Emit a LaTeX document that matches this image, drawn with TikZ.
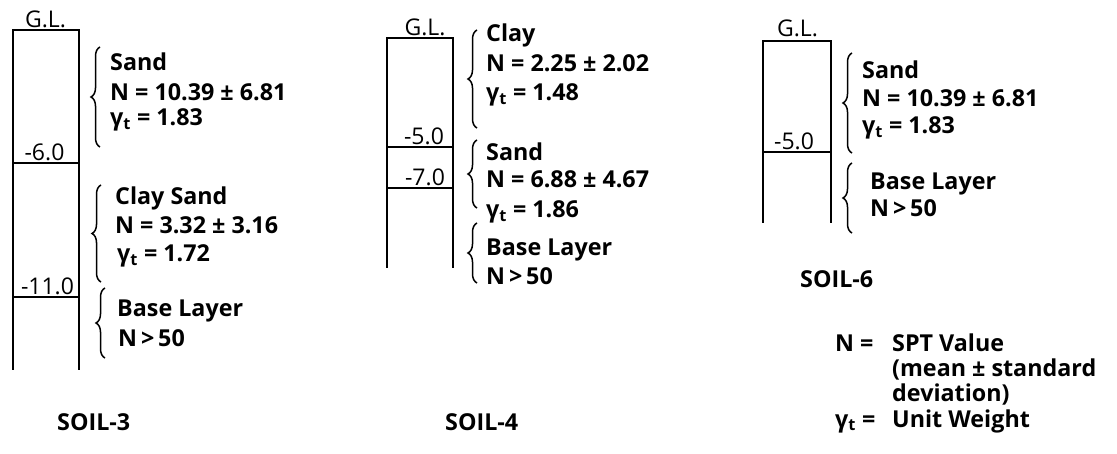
\documentclass[tikz,border=0pt]{standalone}
\usepackage{fontspec}
\setmainfont{Open Sans}
\usetikzlibrary{decorations.pathreplacing}
\newcommand{\gmt}{γ\textsubscript{t}}
\begin{document}
\begin{tikzpicture}[x=1pt,y=-1pt,
  col/.style={line width=1.8pt},
  brc/.style={decorate,decoration={brace,amplitude=9pt,aspect=0.5},line width=1.5pt},
  big/.style={font=\bfseries\fontsize{23.3}{28}\selectfont, inner sep=0pt, anchor=base west},
  dep/.style={font=\fontsize{23}{26}\selectfont, inner sep=0pt, anchor=base},
]
\useasboundingbox (0,0) rectangle (1117,454);
% ---------------- SOIL-3 ----------------
\coordinate (a1) at (13,370); \coordinate (a2) at (13,30);
\coordinate (a3) at (79,30);  \coordinate (a4) at (79,370);
\draw[col] (a1) -- (a2) -- (a3) -- (a4);
\coordinate (a5) at (13,163); \coordinate (a6) at (79,163);
\coordinate (a7) at (13,297); \coordinate (a8) at (79,297);
\draw[col] (a5) -- (a6);
\draw[col] (a7) -- (a8);
\node[dep] (agl) at (45.5,28) {G.L.};
\node[dep] (ad1) at (44.5,161) {-6.0};
\node[dep] (ad2) at (47.5,295) {-11.0};
\coordinate (ab1t) at (100,47);  \coordinate (ab1b) at (100,147);
\coordinate (ab2t) at (101,185); \coordinate (ab2b) at (101,282);
\coordinate (ab3t) at (105,288); \coordinate (ab3b) at (105,358);
\draw[brc] (ab1b) -- (ab1t);
\draw[brc] (ab2b) -- (ab2t);
\draw[brc] (ab3b) -- (ab3t);
\node[big] (a_s1) at (110,71) {Sand};
\node[big] (a_s2) at (110,101) {N = 10.39 ± 6.81};
\node[big] (a_s3) at (110,126) {\gmt\ = 1.83};
\node[big] (a_c1) at (115,205) {Clay Sand};
\node[big] (a_c2) at (115,234) {N = 3.32 ± 3.16};
\node[big] (a_c3) at (117,262) {\gmt\ = 1.72};
\node[big] (a_b1) at (117,317) {Base Layer};
\node[big] (a_b2) at (118,347) {N\,>\,50};
\node[big] (a_t) at (57,430) {SOIL-3};
% ---------------- SOIL-4 ----------------
\coordinate (b1) at (387,268); \coordinate (b2) at (387,38);
\coordinate (b3) at (453,38);  \coordinate (b4) at (453,268);
\draw[col] (b1) -- (b2) -- (b3) -- (b4);
\coordinate (b5) at (387,147); \coordinate (b6) at (453,147);
\coordinate (b7) at (387,188); \coordinate (b8) at (453,188);
\draw[col] (b5) -- (b6);
\draw[col] (b7) -- (b8);
\node[dep] (bgl) at (425,36) {G.L.};
\node[dep] (bd1) at (424,145) {-5.0};
\node[dep] (bd2) at (425,186) {-7.0};
\coordinate (bb1t) at (477,30);  \coordinate (bb1b) at (477,128);
\coordinate (bb2t) at (477,140); \coordinate (bb2b) at (477,208);
\coordinate (bb3t) at (477,223); \coordinate (bb3b) at (477,283);
\draw[brc] (bb1b) -- (bb1t);
\draw[brc] (bb2b) -- (bb2t);
\draw[brc] (bb3b) -- (bb3t);
\node[big] (b_c1) at (486,42) {Clay};
\node[big] (b_c2) at (486,72) {N = 2.25 ± 2.02};
\node[big] (b_c3) at (486,101) {\gmt\ = 1.48};
\node[big] (b_s1) at (486,161) {Sand};
\node[big] (b_s2) at (486,188) {N = 6.88 ± 4.67};
\node[big] (b_s3) at (486,218) {\gmt\ = 1.86};
\node[big] (b_b1) at (486,256) {Base Layer};
\node[big] (b_b2) at (486,285) {N\,>\,50};
\node[big] (b_t) at (445,430) {SOIL-4};
% ---------------- SOIL-6 ----------------
\coordinate (c1) at (763,223); \coordinate (c2) at (763,41);
\coordinate (c3) at (831,41);  \coordinate (c4) at (831,223);
\draw[col] (c1) -- (c2) -- (c3) -- (c4);
\coordinate (c5) at (763,152); \coordinate (c6) at (831,152);
\draw[col] (c5) -- (c6);
\node[dep] (cgl) at (797.5,37) {G.L.};
\node[dep] (cd1) at (794,150) {-5.0};
\coordinate (cb1t) at (852,53);  \coordinate (cb1b) at (852,153);
\coordinate (cb2t) at (852,163); \coordinate (cb2b) at (852,233);
\draw[brc] (cb1b) -- (cb1t);
\draw[brc] (cb2b) -- (cb2t);
\node[big] (c_s1) at (862,79) {Sand};
\node[big] (c_s2) at (862,107) {N = 10.39 ± 6.81};
\node[big] (c_s3) at (862,134) {\gmt\ = 1.83};
\node[big] (c_b1) at (870,190) {Base Layer};
\node[big] (c_b2) at (870,217) {N\,>\,50};
\node[big] (c_t) at (800,288) {SOIL-6};
% ---------------- Legend ----------------
\node[big] (l1) at (835,352) {N =};
\node[big] (l2) at (892,352) {SPT Value};
\node[big] (l3) at (892,377) {(mean ± standard};
\node[big] (l4) at (892,402) {deviation)};
\node[big] (l5) at (835,427) {\gmt\ =};
\node[big] (l6) at (892,427) {Unit Weight};
\end{tikzpicture}
\end{document}
